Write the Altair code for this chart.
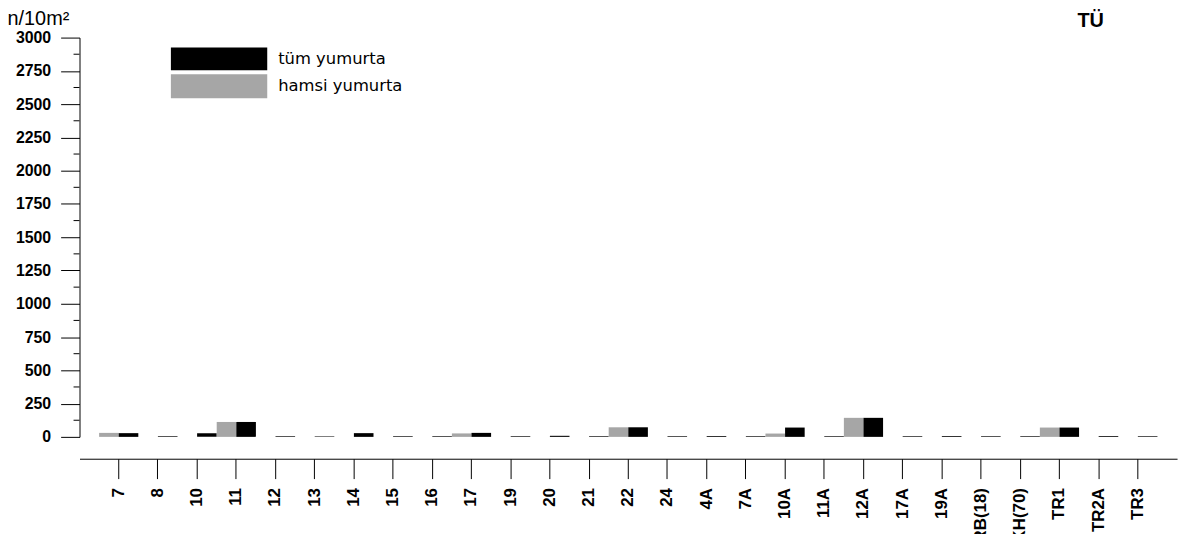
import altair as alt
import pandas as pd

# ---- data ----
stations = ["7", "8", "10", "11", "12", "13", "14", "15", "16", "17", "19", "20", "21",
            "22", "24", "4A", "7A", "10A", "11A", "12A", "17A", "19A", "KRB(18)", "KH(70)",
            "TR1", "TR2A", "TR3"]
hamsi = [30, 0, 0, 112, 0, 0, 0, 0, 0, 26, 0, 0, 0, 72, 0, 0, 0, 25, 0, 143, 0, 0, 0, 0, 70, 0, 0]
tum = [28, 5, 27, 112, 5, 5, 28, 5, 5, 30, 5, 8, 5, 72, 5, 6, 5, 70, 5, 143, 5, 6, 5, 5, 70, 6, 5]
series = ["hamsi yumurta", "tüm yumurta"]
legend_order = ["tüm yumurta", "hamsi yumurta"]
colors = {"hamsi yumurta": "#a6a6a6", "tüm yumurta": "#000000"}
y_major = list(range(0, 3001, 250))
y_minor = list(range(125, 3000, 250))

rows = []
for s, h, t in zip(stations, hamsi, tum):
    rows.append({"istasyon": s, "seri": "hamsi yumurta", "n": h})
    rows.append({"istasyon": s, "seri": "tüm yumurta", "n": t})
df = pd.DataFrame(rows)

FONT = "Liberation Sans"
W, H = 1105, 402

y_axis = alt.Axis(values=y_major, format="d", tickSize=19, labelPadding=10, grid=False,
                  labelFont=FONT, labelFontSize=16, labelFontWeight="bold",
                  labelColor="black", domainColor="black", tickColor="black",
                  title="n/10m²", titleAngle=0, titleX=-73, titleY=-13,
                  titleAlign="left", titleBaseline="alphabetic", titleFont=FONT,
                  titleFontSize=20, titleFontWeight="normal", titleColor="black")
y_scale = alt.Scale(domain=[0, 3000], nice=False)

bars = alt.Chart(df).mark_bar(strokeWidth=0).encode(
    x=alt.X(
        "istasyon:N", sort=stations,
        scale=alt.Scale(paddingInner=0, paddingOuter=0.5),
        axis=alt.Axis(title=None, labelAngle=-90, offset=22, tickSize=20, labelPadding=9,
                      labelFont=FONT, labelFontSize=17, labelFontWeight="bold",
                      labelColor="black", domainColor="black", tickColor="black",
                      grid=False, labelOverlap=False),
    ),
    xOffset=alt.XOffset("seri:N", sort=series, scale=alt.Scale(paddingInner=0, paddingOuter=0)),
    y=alt.Y("n:Q", scale=y_scale, axis=y_axis, title="n/10m²"),
    color=alt.Color("seri:N", scale=alt.Scale(domain=series, range=[colors[s] for s in series]),
                    legend=None),
)

minor = alt.Chart(pd.DataFrame({"n": y_minor})).mark_rule(color="black", strokeWidth=1).encode(
    x=alt.value(-6), x2=alt.value(0), y=alt.Y("n:Q", scale=y_scale, axis=y_axis, title="n/10m²")
)

layers = [minor, bars]

# legend drawn as a small key
key_y = {"tüm yumurta": (10, 33), "hamsi yumurta": (37, 61)}
for name in legend_order:
    y0, y1 = key_y[name]
    one = pd.DataFrame({"t": [name]})
    layers.append(alt.Chart(one).mark_rect(color=colors[name]).encode(
        x=alt.value(92), x2=alt.value(189), y=alt.value(y0), y2=alt.value(y1)))
    layers.append(alt.Chart(one).mark_text(align="left", baseline="middle", font="DejaVu Sans",
                                           fontSize=16.5, color="black").encode(
        x=alt.value(200), y=alt.value((y0 + y1) / 2), text="t:N"))

layers.append(alt.Chart(pd.DataFrame({"t": ["TÜ"]})).mark_text(
    align="center", baseline="alphabetic", font=FONT, fontSize=20, fontWeight="bold",
    color="black").encode(x=alt.value(1018), y=alt.value(-11), text="t:N"))

chart = alt.layer(*layers).properties(
    width=W, height=H,
    autosize=alt.AutoSizeParams(type="none"),
    padding={"left": 72, "top": 28, "right": 8, "bottom": 96},
).configure(background="white").configure_view(stroke=None)

chart.save("out.html", embed_options={"renderer": "svg", "actions": False})
